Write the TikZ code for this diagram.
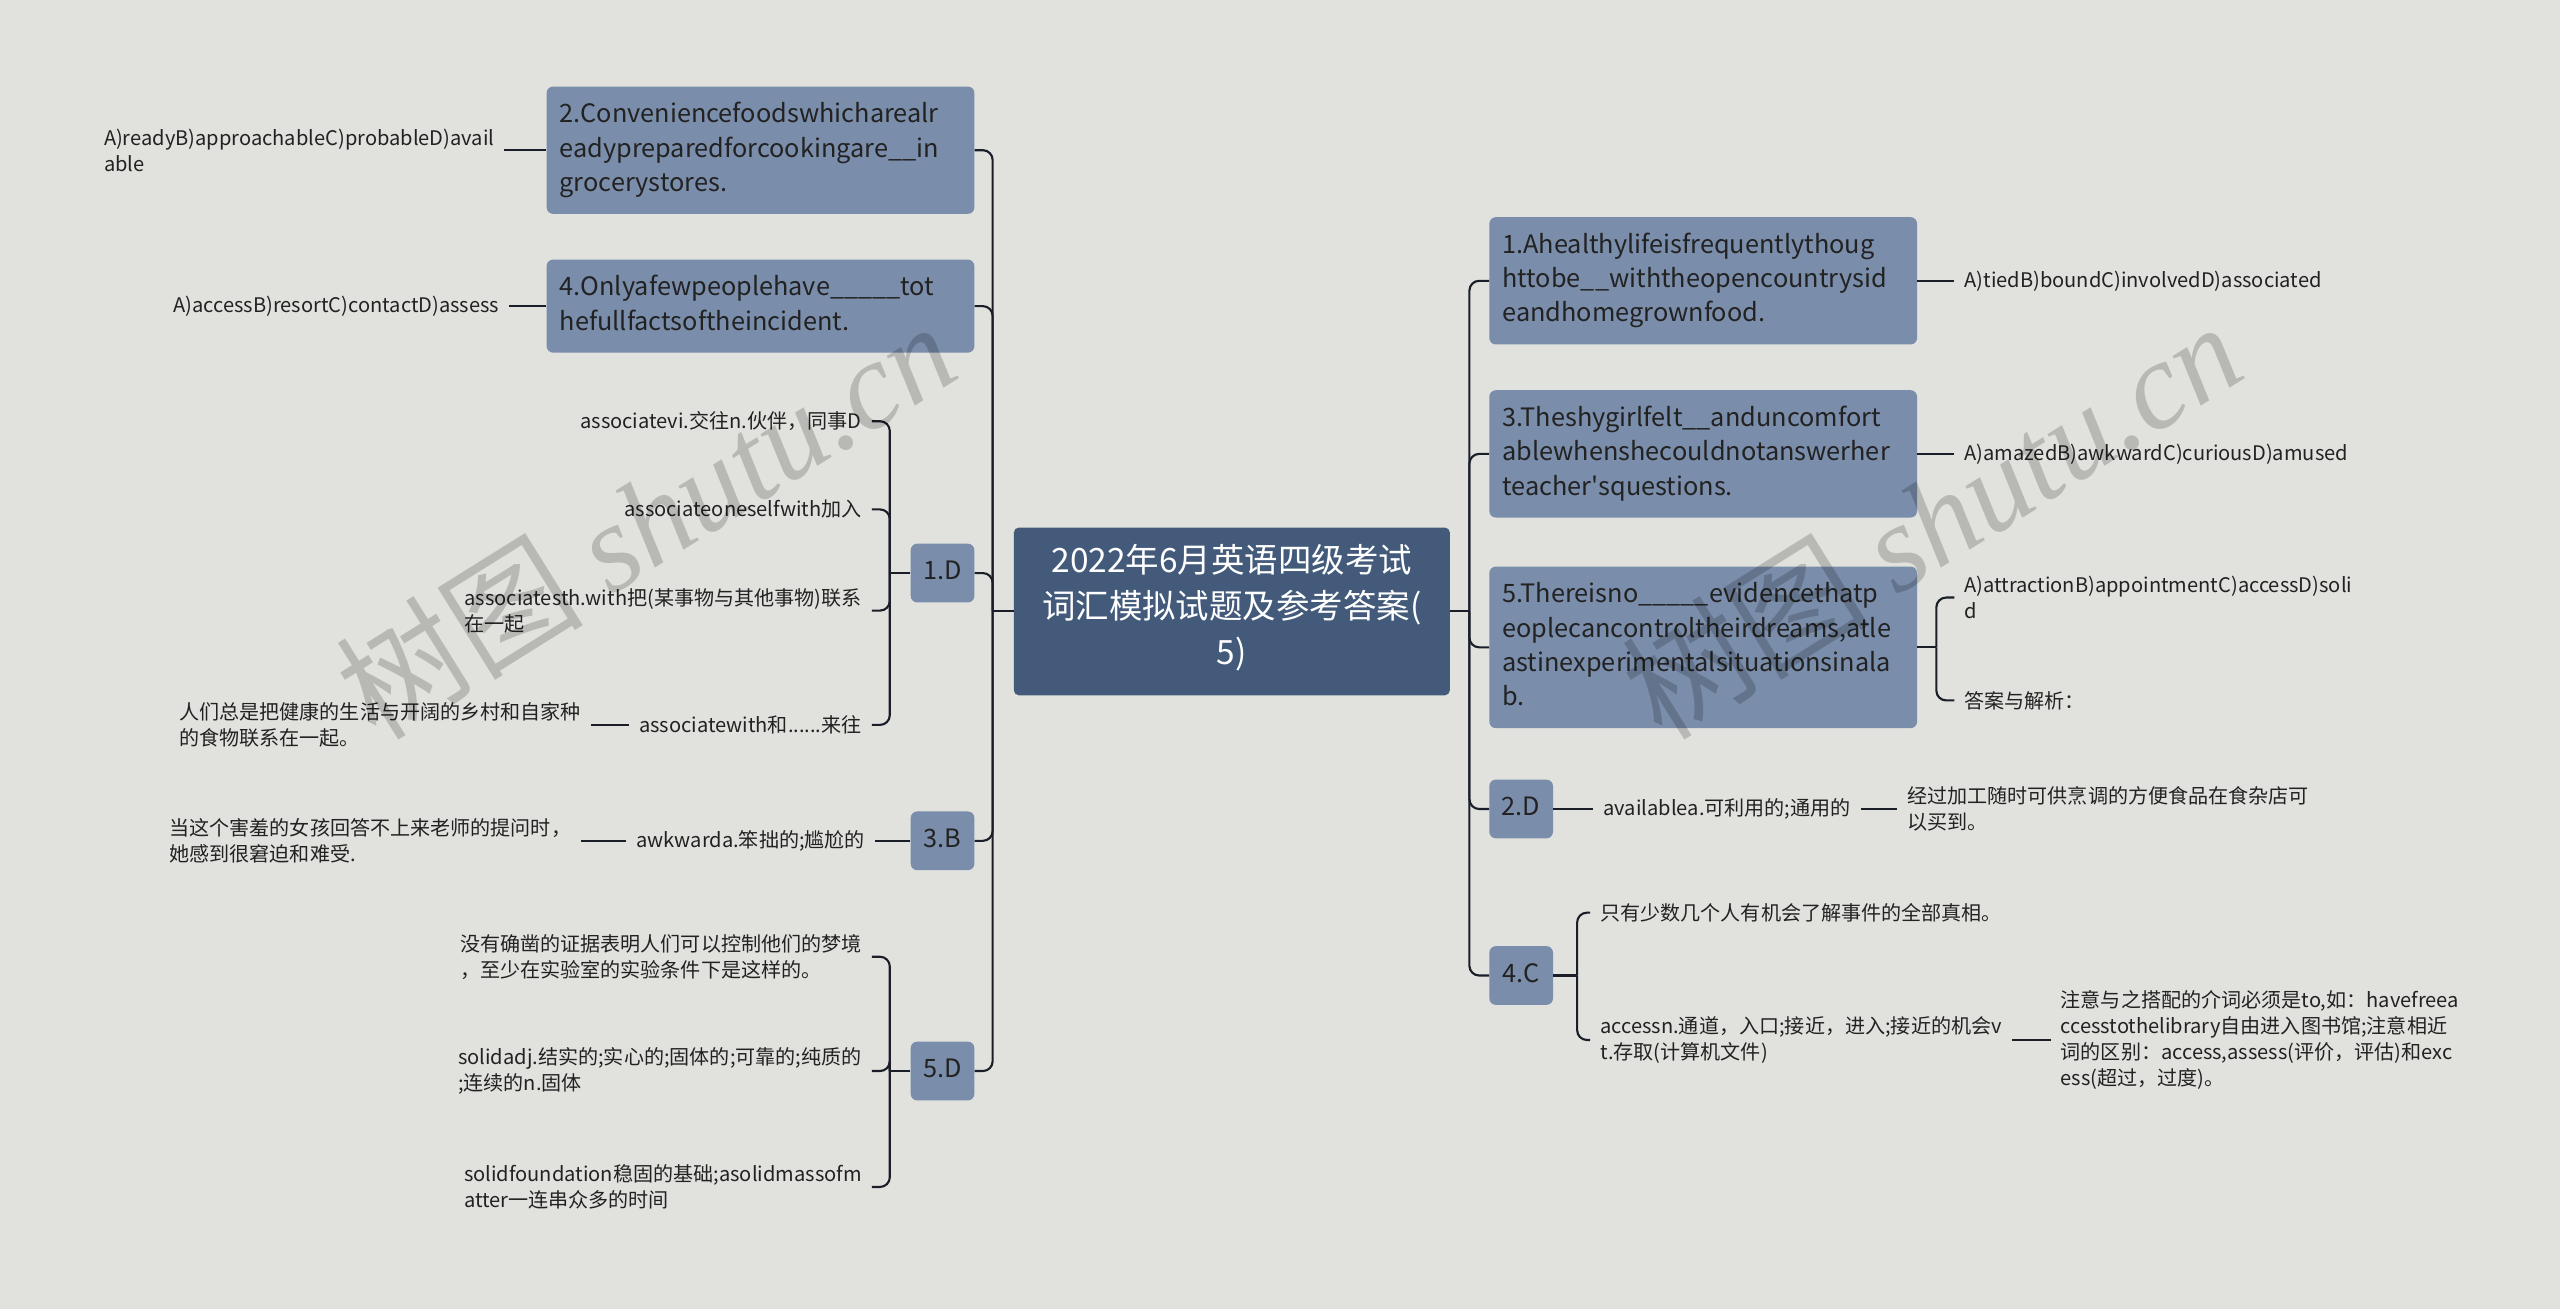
\documentclass[tikz,border=0pt]{standalone}
\usepackage{fontspec}
\setmainfont{Noto Sans CJK SC}
\newfontfamily\plaincjk{Noto Sans CJK SC}
\newfontfamily\wmfont{Liberation Serif}
\definecolor{bgcol}{HTML}{E1E2DE}
\definecolor{boxcol}{HTML}{7A8DAA}
\definecolor{rootcol}{HTML}{435A7B}
\definecolor{linecol}{HTML}{1A1E28}
\definecolor{txtcol}{HTML}{222222}
\hyphenpenalty=10000
\exhyphenpenalty=10000
\begin{document}
\begin{tikzpicture}[x=1pt,y=-1pt,
    link/.style={draw=linecol,line width=1.3pt,rounded corners=6pt},
    rootbox/.style={fill=rootcol,text=white,rounded corners=3pt,align=center,
        minimum width=267pt,inner ysep=10.5pt,
        font=\fontsize{20.5}{28}\selectfont,
        execute at begin node=\strut,execute at end node=\strut},
    qbox/.style={fill=boxcol,text=txtcol,rounded corners=4pt,text width=246pt,
        align=left,inner xsep=8pt,inner ysep=7.5pt,
        font=\fontsize{15.5}{21}\selectfont,
        execute at begin node=\strut,execute at end node=\strut},
    abox/.style={fill=boxcol,text=txtcol,rounded corners=4pt,minimum width=39pt,
        inner xsep=6pt,inner ysep=7.5pt,font=\fontsize{15.5}{21}\selectfont,
        execute at begin node=\strut},
    leaf/.style={text=txtcol,align=left,inner xsep=6pt,inner ysep=2pt,
        font=\fontsize{12.3}{16}\selectfont},
    leafl/.style={leaf,anchor=east},
    leafr/.style={leaf,anchor=west},
    wmark/.style={text=black,opacity=0.18,rotate=32,font=\fontsize{76}{80}\selectfont}]

% ===== Nền =====
\fill[bgcol] (0,0) rectangle (1568,802);
\useasboundingbox (0,0) rectangle (1568,802);

% ===== Gốc =====
\node[rootbox] (root) at (754.5,374.5) {2022年6月英语四级考试\\词汇模拟试题及参考答案(\\5)};

% ===== Nhánh trái =====
\node[qbox,anchor=east] (q2) at (597,92) {2.Conveniencefoodswhicharealr\\eadypreparedforcookingare\_\_in\\grocerystores.};
\node[qbox,anchor=east] (q4) at (597,187.5) {4.Onlyafewpeoplehave\_\_\_\_\_tot\\hefullfactsoftheincident.};
\node[abox,anchor=east] (a1) at (597,351) {1.D};
\node[abox,anchor=east] (a3) at (597,515) {3.B};
\node[abox,anchor=east] (a5) at (597,656) {5.D};

\node[leafl] (l2opt) at (309,92) {A)readyB)approachableC)probableD)avail\\able};
\node[leafl] (l4opt) at (312,187.5) {A)accessB)resortC)contactD)assess};

\node[leafl] (d1a) at (534,258) {associatevi.交往n.伙伴，同事D};
\node[leafl] (d1b) at (534,312) {associateoneselfwith加入};
\node[leafl] (d1c) at (534,374) {associatesth.with把(某事物与其他事物)联系\\在一起};
\node[leafl] (d1d) at (534,444) {associatewith和......来往};
\node[leafl] (d1e) at (362,444) {人们总是把健康的生活与开阔的乡村和自家种\\的食物联系在一起。};

\node[leafl] (b3a) at (536,515) {awkwarda.笨拙的;尴尬的};
\node[leafl] (b3b) at (356,515) {当这个害羞的女孩回答不上来老师的提问时，\\她感到很窘迫和难受.};

\node[leafl] (e5a) at (534,586) {没有确凿的证据表明人们可以控制他们的梦境\\，至少在实验室的实验条件下是这样的。};
\node[leafl] (e5b) at (534,656) {solidadj.结实的;实心的;固体的;可靠的;纯质的\\;连续的n.固体};
\node[leafl] (e5c) at (534,727) {solidfoundation稳固的基础;asolidmassofm\\atter一连串众多的时间};

% ===== Nhánh phải =====
\node[qbox,anchor=west] (q1) at (912,172) {1.Ahealthylifeisfrequentlythoug\\httobe\_\_withtheopencountrysid\\eandhomegrownfood.};
\node[qbox,anchor=west] (q3) at (912,278) {3.Theshygirlfelt\_\_anduncomfort\\ablewhenshecouldnotanswerher\\teacher{\plaincjk'}squestions.};
\node[qbox,anchor=west] (q5) at (912,396.5) {5.Thereisno\_\_\_\_\_evidencethatp\\eoplecancontroltheirdreams,atle\\astinexperimentalsituationsinala\\b.};
\node[abox,anchor=west] (a2) at (912,495.5) {2.D};
\node[abox,anchor=west] (a4) at (912,597.5) {4.C};

\node[leafr] (r1opt) at (1197,172) {A)tiedB)boundC)involvedD)associated};
\node[leafr] (r3opt) at (1197,278) {A)amazedB)awkwardC)curiousD)amused};
\node[leafr] (r5a) at (1197,366) {A)attractionB)appointmentC)accessD)soli\\d};
\node[leafr] (r5b) at (1197,429) {答案与解析：};

\node[leafr] (c2a) at (976,495.5) {availablea.可利用的;通用的};
\node[leafr] (c2b) at (1162,495.5) {经过加工随时可供烹调的方便食品在食杂店可\\以买到。};

\node[leafr] (f4a) at (974,559) {只有少数几个人有机会了解事件的全部真相。};
\node[leafr] (f4b) at (974,637) {accessn.通道，入口;接近，进入;接近的机会v\\t.存取(计算机文件)};
\node[leafr] (f4c) at (1256,637) {注意与之搭配的介词必须是to,如：havefreea\\ccesstothelibrary自由进入图书馆;注意相近\\词的区别：access,assess(评价，评估)和exc\\ess(超过，过度)。};

% ===== Đường nối =====
\coordinate (ltrunk) at (608,374.5);
\coordinate (rtrunk) at (900,374.5);
\draw[link] (root.west) -- (ltrunk);
\draw[link] (root.east) -- (rtrunk);
\foreach \n in {q2,q4,a1,a3,a5} {
    \draw[link] (ltrunk) |- (\n.east);
}
\foreach \n in {q1,q3,q5,a2,a4} {
    \draw[link] (rtrunk) |- (\n.west);
}

\draw[link] (q2.west) -- (l2opt.east);
\draw[link] (q4.west) -- (l4opt.east);
\draw[link] (q1.east) -- (r1opt.west);
\draw[link] (q3.east) -- (r3opt.west);

\coordinate (k1) at (545,351);
\draw[link] (a1.west) -- (k1);
\foreach \n in {d1a,d1b,d1c,d1d} {
    \draw[link] (k1) |- (\n.east);
}
\draw[link] (d1d.west) -- (d1e.east);

\draw[link] (a3.west) -- (b3a.east);
\draw[link] (b3a.west) -- (b3b.east);

\coordinate (k5) at (545,656);
\draw[link] (a5.west) -- (k5);
\foreach \n in {e5a,e5b,e5c} {
    \draw[link] (k5) |- (\n.east);
}

\coordinate (kq5) at (1186,396.5);
\draw[link] (q5.east) -- (kq5);
\foreach \n in {r5a,r5b} {
    \draw[link] (kq5) |- (\n.west);
}

\draw[link] (a2.east) -- (c2a.west);
\draw[link] (c2a.east) -- (c2b.west);

\coordinate (k4) at (966,597.5);
\draw[link] (a4.east) -- (k4);
\foreach \n in {f4a,f4b} {
    \draw[link] (k4) |- (\n.west);
}
\draw[link] (f4b.east) -- (f4c.west);

% ===== Hình mờ =====
\node[wmark] (wm1) at (395,318) {树图 {\wmfont\itshape shutu.cn}};
\node[wmark] (wm2) at (1183,318) {树图 {\wmfont\itshape shutu.cn}};

\end{tikzpicture}
\end{document}
